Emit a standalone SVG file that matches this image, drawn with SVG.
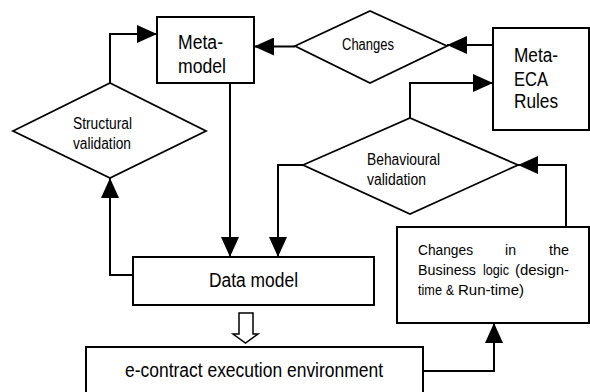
<svg xmlns="http://www.w3.org/2000/svg" width="590" height="392" viewBox="0 0 590 392">
<defs>
<style>
.box{fill:#fff;stroke:#000;stroke-width:2}
.dia{fill:#fff;stroke:#000;stroke-width:1.8}
.con{fill:none;stroke:#000;stroke-width:2}
text{font-family:"Liberation Sans",Arial,sans-serif;fill:#000}
.big{font-size:19.5px}
.mid{font-size:16px}
.sm{font-size:15.5px}
</style>
<marker id="ah" markerUnits="userSpaceOnUse" markerWidth="20" markerHeight="18" refX="20" refY="9" orient="auto">
<path d="M0,0 L20,9 L0,18 z" fill="#000"/>
</marker>
</defs>
<rect width="590" height="392" fill="#fff"/>
<g id="connectors">
<path class="con" d="M110,83 V34 H157" marker-end="url(#ah)"/>
<path class="con" d="M133,275 H110 V178" marker-end="url(#ah)"/>
<path class="con" d="M230,83 V257" marker-end="url(#ah)"/>
<path class="con" d="M303,165 H278 V257" marker-end="url(#ah)"/>
<path class="con" d="M410,118 V83 H493" marker-end="url(#ah)"/>
<path class="con" d="M493,45 H447" marker-end="url(#ah)"/>
<path class="con" d="M295,46.5 H254" marker-end="url(#ah)"/>
<path class="con" d="M566,227 V165 H518" marker-end="url(#ah)"/>
<path class="con" d="M423,371 H494 V323" marker-end="url(#ah)"/>
<polygon points="239,313 253,313 253,334 258,334 245.5,343 233,334 239,334" fill="#fff" stroke="#000" stroke-width="1.5"/>
</g>
<g id="metamodel">
<rect class="box" x="157" y="17" width="97" height="66"/>
<text class="big" x="178" y="49" textLength="45" lengthAdjust="spacingAndGlyphs">Meta-</text>
<text class="big" x="178" y="73" textLength="48" lengthAdjust="spacingAndGlyphs">model</text>
</g>
<g id="changes">
<polygon class="dia" points="295,46 370,11 447,46 370,83"/>
<text class="mid" x="342" y="50" textLength="52" lengthAdjust="spacingAndGlyphs">Changes</text>
</g>
<g id="metaeca">
<rect class="box" x="493" y="28" width="96" height="102"/>
<text class="big" x="514" y="62" textLength="44" lengthAdjust="spacingAndGlyphs">Meta-</text>
<text class="big" x="514" y="86" textLength="34" lengthAdjust="spacingAndGlyphs">ECA</text>
<text class="big" x="514" y="108" textLength="44" lengthAdjust="spacingAndGlyphs">Rules</text>
</g>
<g id="structural">
<polygon class="dia" points="13,131 110,83 206,131 110,178"/>
<text class="mid" x="73" y="129" textLength="59" lengthAdjust="spacingAndGlyphs">Structural</text>
<text class="mid" x="73" y="149" textLength="58" lengthAdjust="spacingAndGlyphs">validation</text>
</g>
<g id="behavioural">
<polygon class="dia" points="303,165 410,118 518,165 410,214"/>
<text class="mid" x="367" y="165" textLength="73" lengthAdjust="spacingAndGlyphs">Behavioural</text>
<text class="mid" x="367" y="185" textLength="59" lengthAdjust="spacingAndGlyphs">validation</text>
</g>
<g id="datamodel">
<rect class="box" x="133" y="257" width="241" height="48"/>
<text class="big" x="209" y="287" textLength="89" lengthAdjust="spacingAndGlyphs">Data model</text>
</g>
<g id="businesslogic">
<rect class="box" x="397" y="227" width="192" height="96"/>
<text class="sm" x="418" y="254.5" textLength="55" lengthAdjust="spacingAndGlyphs">Changes</text>
<text class="sm" x="505" y="254.5" textLength="11" lengthAdjust="spacingAndGlyphs">in</text>
<text class="sm" x="549" y="254.5" textLength="20" lengthAdjust="spacingAndGlyphs">the</text>
<text class="sm" x="418" y="274.5" textLength="58" lengthAdjust="spacingAndGlyphs">Business</text>
<text class="sm" x="483" y="274.5" textLength="26" lengthAdjust="spacingAndGlyphs">logic</text>
<text class="sm" x="515" y="274.5" textLength="54" lengthAdjust="spacingAndGlyphs">(design-</text>
<text class="sm" x="418" y="294.5" textLength="24" lengthAdjust="spacingAndGlyphs">time</text>
<text class="sm" x="446" y="294.5" textLength="8" lengthAdjust="spacingAndGlyphs">&amp;</text>
<text class="sm" x="458" y="294.5" textLength="66" lengthAdjust="spacingAndGlyphs">Run-time)</text>
</g>
<g id="econtract">
<rect class="box" x="86" y="347" width="337" height="60"/>
<text class="big" x="125" y="377" textLength="258" lengthAdjust="spacingAndGlyphs">e-contract execution environment</text>
</g>
</svg>
